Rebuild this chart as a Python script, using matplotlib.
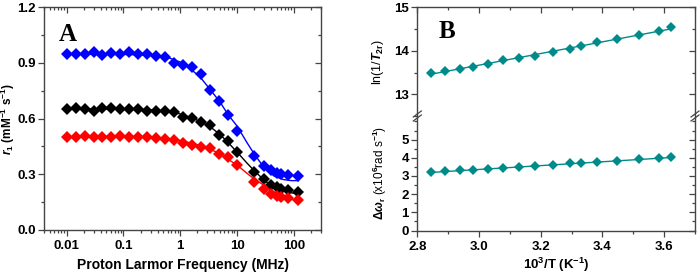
import matplotlib
matplotlib.use("Agg")
import matplotlib.pyplot as plt
from matplotlib.ticker import MultipleLocator, LogLocator, NullFormatter
import numpy as np

plt.rcParams['font.family'] = ['Liberation Sans', 'DejaVu Sans']
plt.rcParams['mathtext.fontset'] = 'custom'
plt.rcParams['mathtext.rm'] = 'Liberation Sans:bold'
plt.rcParams['mathtext.it'] = 'Liberation Sans:bold:italic'
plt.rcParams['mathtext.bf'] = 'Liberation Sans:bold'

# Panel A: NMRD profiles
freq = [0.01, 0.0144, 0.0207, 0.0298, 0.0428, 0.0616, 0.0886, 0.127, 0.183, 0.264,
        0.379, 0.546, 0.785, 1.13, 1.62, 2.34, 3.36, 4.83, 6.95, 10.0,
        20, 30, 40, 50, 60, 80, 120]
r1_blue = [0.947, 0.948, 0.948, 0.957, 0.943, 0.955, 0.948, 0.957, 0.948, 0.947,
           0.939, 0.934, 0.902, 0.889, 0.880, 0.840, 0.756, 0.696, 0.619, 0.533,
           0.397, 0.345, 0.323, 0.309, 0.302, 0.296, 0.291]
r1_black = [0.650, 0.656, 0.652, 0.641, 0.656, 0.656, 0.652, 0.652, 0.652, 0.643,
            0.643, 0.641, 0.635, 0.611, 0.606, 0.583, 0.565, 0.512, 0.479, 0.420,
            0.311, 0.276, 0.242, 0.230, 0.221, 0.216, 0.203]
r1_red = [0.503, 0.500, 0.508, 0.502, 0.500, 0.500, 0.505, 0.502, 0.500, 0.500,
          0.497, 0.490, 0.486, 0.470, 0.460, 0.449, 0.440, 0.412, 0.393, 0.350,
          0.257, 0.219, 0.194, 0.183, 0.176, 0.171, 0.162]

# fitted curves
fit_freq = [0.01, 0.1, 0.3, 0.6, 1, 1.5, 2.3, 3.4, 5, 7, 10, 15, 20, 30, 45, 65, 90, 120]
fit_blue = [0.947, 0.946, 0.942, 0.930, 0.905, 0.870, 0.820, 0.755, 0.690, 0.620,
            0.560, 0.470, 0.410, 0.335, 0.290, 0.272, 0.266, 0.266]
fit_black = [0.652, 0.651, 0.648, 0.640, 0.625, 0.607, 0.584, 0.555, 0.515, 0.470,
             0.420, 0.360, 0.320, 0.268, 0.228, 0.210, 0.200, 0.195]
fit_red = [0.502, 0.501, 0.499, 0.493, 0.482, 0.470, 0.455, 0.435, 0.410, 0.380,
           0.350, 0.305, 0.275, 0.240, 0.205, 0.180, 0.166, 0.158]

# Panel B: temperature dependence
inv_T = [2.845, 2.891, 2.937, 2.982, 3.028, 3.079, 3.131, 3.183, 3.239, 3.296,
         3.331, 3.382, 3.448, 3.517, 3.584, 3.622]
ln_T2r = [13.497, 13.536, 13.582, 13.634, 13.697, 13.789, 13.841, 13.887, 13.966, 14.034,
          14.103, 14.202, 14.278, 14.356, 14.448, 14.540]
d_omega = [3.196, 3.251, 3.306, 3.339, 3.377, 3.432, 3.487, 3.541, 3.612, 3.689,
           3.705, 3.760, 3.831, 3.908, 3.979, 4.017]

spine_col = '#444444'
teal = '#008B8B'
W, H = 700, 274


def style_axes(ax):
    for s in ax.spines.values():
        s.set_color(spine_col)
        s.set_linewidth(1.0)
    ax.tick_params(which='both', colors=spine_col, labelcolor='black',
                   labelsize=9.5, width=0.9, direction='out')
    ax.tick_params(which='major', length=4)
    ax.tick_params(which='minor', length=2)
    ax.tick_params(axis='x', which='both', top=True)
    ax.tick_params(axis='y', which='both', right=True, pad=2)
    for lab in ax.get_xticklabels() + ax.get_yticklabels():
        lab.set_fontweight('bold')


def inward_mirror_ticks(ax):
    # top and right ticks point inward, left and bottom outward (Origin style)
    for t in ax.xaxis.get_major_ticks() + ax.xaxis.get_minor_ticks():
        t.tick2line.set_marker(3)
    for t in ax.yaxis.get_major_ticks() + ax.yaxis.get_minor_ticks():
        t.tick2line.set_marker(0)


fig = plt.figure(figsize=(W / 100, H / 100), dpi=100)

# ---- Panel A ----
axA = fig.add_axes([44 / W, 1 - 230 / H, (321 - 44) / W, (230 - 7.3) / H])
axA.plot(fit_freq, fit_blue, color='#0000FF', lw=1.0)
axA.plot(fit_freq, fit_black, color='black', lw=1.0)
axA.plot(fit_freq, fit_red, color='#FF0000', lw=1.0)
axA.plot(freq, r1_blue, 'D', color='#0000FF', ms=6, mew=0)
axA.plot(freq, r1_black, 'D', color='black', ms=6, mew=0)
axA.plot(freq, r1_red, 'D', color='#FF0000', ms=6, mew=0)
axA.set_xscale('log')
axA.set_xlim(0.004, 300)
axA.set_ylim(0, 1.2)
axA.set_xticks([0.01, 0.1, 1, 10, 100])
axA.set_xticklabels(['0.01', '0.1', '1', '10', '100'])
axA.xaxis.set_minor_locator(LogLocator(base=10, subs=np.arange(2, 10)))
axA.xaxis.set_minor_formatter(NullFormatter())
axA.yaxis.set_minor_locator(MultipleLocator(0.15))
axA.set_yticks([0, 0.3, 0.6, 0.9, 1.2])
axA.set_yticklabels(['0.0', '0.3', '0.6', '0.9', '1.2'])
style_axes(axA)
axA.set_xlabel('Proton Larmor Frequency (MHz)', fontsize=10, fontweight='bold', labelpad=4)
axA.set_ylabel(r'$r_1$ (mM$^{-1}$ s$^{-1}$)', fontsize=8.5, fontweight='bold')
axA.yaxis.set_label_coords(-0.097, 0.5)
axA.text(0.055, 0.93, 'A', transform=axA.transAxes, fontsize=18, fontweight='bold',
         family='Liberation Serif', va='top', ha='left')

# ---- Panel B ----
brk = 116
x0, x1 = 417.3, 695
axBt = fig.add_axes([x0 / W, 1 - brk / H, (x1 - x0) / W, (brk - 7.3) / H])
axBb = fig.add_axes([x0 / W, 1 - 230.5 / H, (x1 - x0) / W, (230.5 - brk) / H])

fit1 = np.polyfit(inv_T, ln_T2r, 1)
fit2 = np.polyfit(inv_T, d_omega, 1)
xx = np.array([inv_T[0], inv_T[-1]])
axBt.plot(xx, np.polyval(fit1, xx), color=teal, lw=1.0)
axBt.plot(inv_T, ln_T2r, 'D', color=teal, ms=5.5, mew=0)
axBb.plot(xx, np.polyval(fit2, xx), color=teal, lw=1.0)
axBb.plot(inv_T, d_omega, 'D', color=teal, ms=5.5, mew=0)

for ax in (axBt, axBb):
    ax.set_xlim(2.8, 3.7)
    ax.xaxis.set_major_locator(MultipleLocator(0.2))
    ax.xaxis.set_minor_locator(MultipleLocator(0.1))
    ax.yaxis.set_minor_locator(MultipleLocator(0.5))

axBt.set_ylim(12.5, 15)
axBb.set_ylim(0, 6.3)
axBt.set_yticks([13, 14, 15])
axBb.set_yticks([0, 1, 2, 3, 4, 5])
axBb.set_xticks([2.8, 3.0, 3.2, 3.4, 3.6])
axBb.set_xticklabels(['2.8', '3.0', '3.2', '3.4', '3.6'])
style_axes(axBt)
style_axes(axBb)
axBt.spines['bottom'].set_visible(False)
axBb.spines['top'].set_visible(False)
axBt.tick_params(axis='x', which='both', bottom=False, labelbottom=False, top=True)
axBb.tick_params(axis='x', which='both', top=False)
axBt.set_ylabel(r'ln(1/$T_{\mathrm{2r}}$)', fontsize=9, labelpad=6)
axBb.set_ylabel(r'$\Delta\omega_{\mathrm{r}}$ (x10$^{6}$rad s$^{-1}$)', fontsize=8.5, labelpad=9)
axBb.set_xlabel(r'10$^{3}$/T (K$^{-1}$)', fontsize=9.5, fontweight='bold', labelpad=2)
axBt.text(0.075, 0.88, 'B', transform=axBt.transAxes, fontsize=18, fontweight='bold',
          family='Liberation Serif', va='top', ha='left')

# break marks on both spines
for xs in (x0, x1):
    for dy in (-2.0, 2.0):
        fig.lines.append(plt.Line2D([(xs - 4) / W, (xs + 4) / W],
                                    [1 - (brk + dy + 3) / H, 1 - (brk + dy - 3) / H],
                                    transform=fig.transFigure, color=spine_col, lw=0.9))

fig.canvas.draw()
for ax in (axA, axBt, axBb):
    inward_mirror_ticks(ax)

fig.savefig('out.png', dpi=100)
